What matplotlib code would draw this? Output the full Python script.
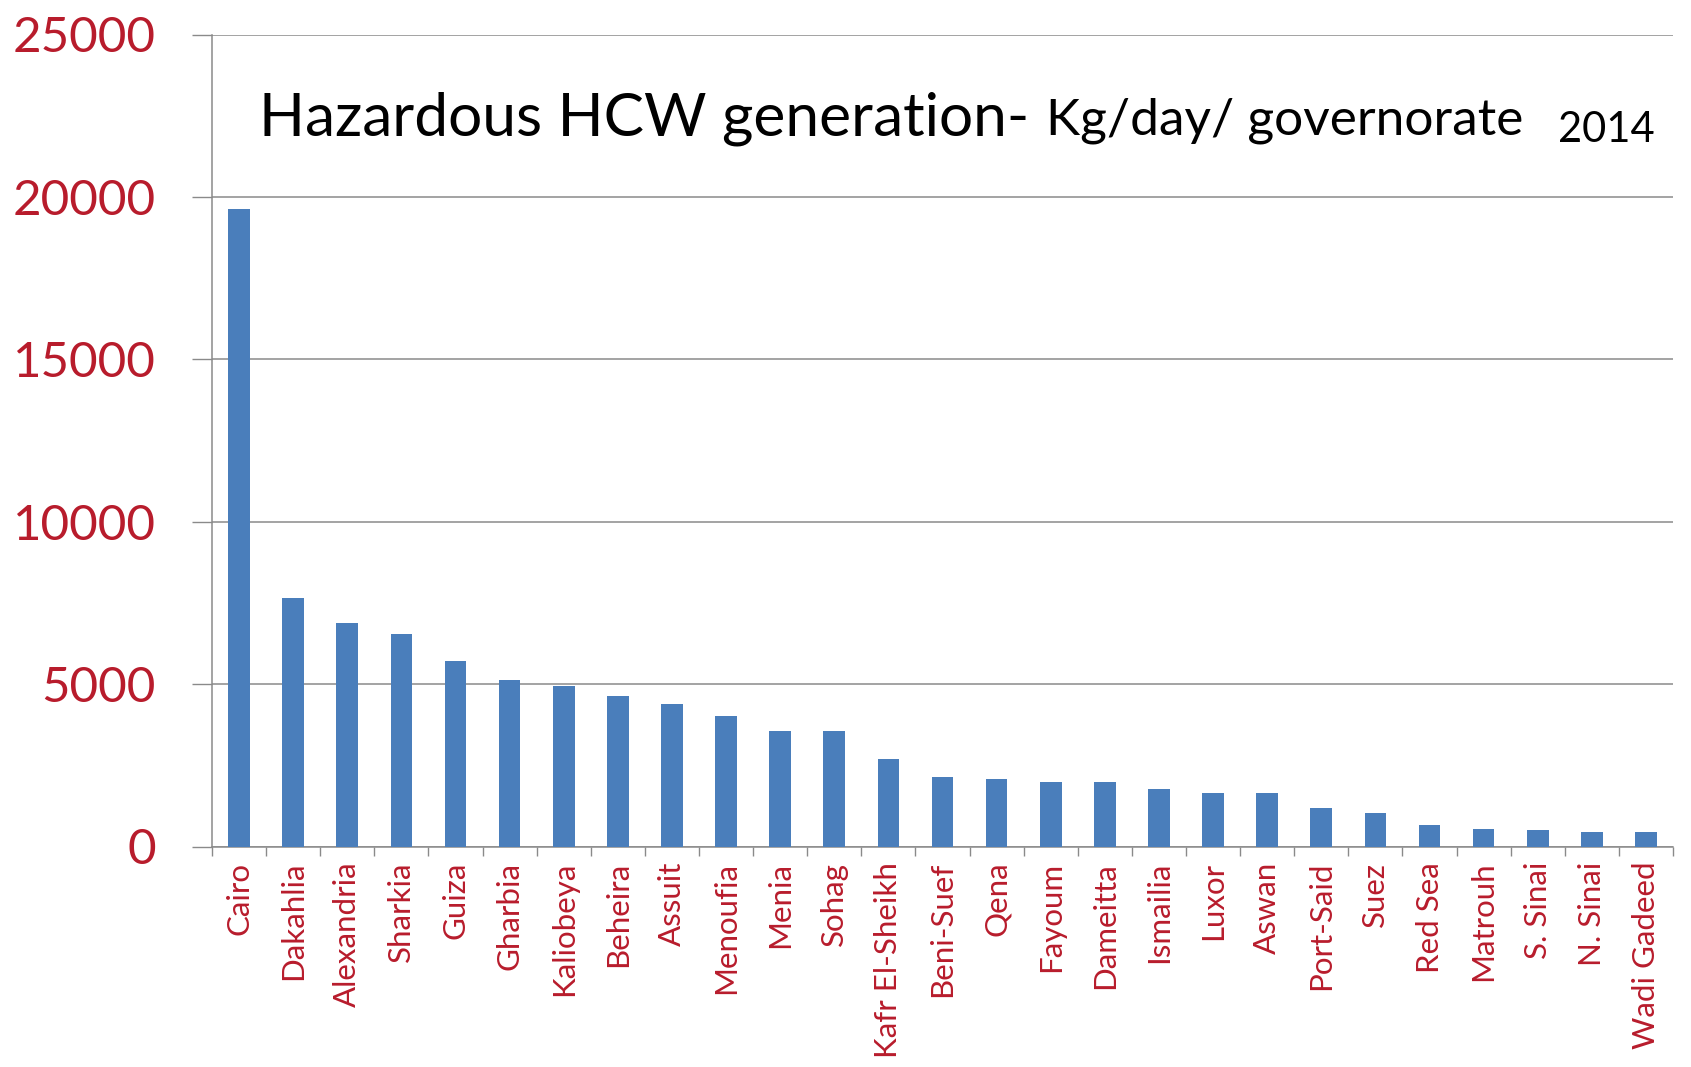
import numpy as np
import matplotlib
matplotlib.use("Agg")
import matplotlib.pyplot as plt

# ======================
# DATA
# ======================
governorates = [
    "Cairo", "Dakahlia", "Alexandria", "Sharkia", "Guiza", "Gharbia",
    "Kaliobeya", "Beheira", "Assuit", "Menoufia", "Menia", "Sohag",
    "Kafr El-Sheikh", "Beni-Suef", "Qena", "Fayoum", "Dameitta", "Ismailia",
    "Luxor", "Aswan", "Port-Said", "Suez", "Red Sea", "Matrouh", "S. Sinai",
    "N. Sinai", "Wadi Gadeed",
]
kg_per_day = [
    19630, 7645, 6870, 6545, 5715, 5140, 4930, 4640, 4390, 4020, 3570, 3560,
    2700, 2130, 2070, 2000, 1990, 1785, 1660, 1640, 1200, 1025, 656, 533,
    513, 460, 460,
]
y_ticks = [0, 5000, 10000, 15000, 20000, 25000]

# ======================
# STYLE
# ======================
W, H = 1691, 1067
BAR_COLOR = "#4a7ebb"
GRID_COLOR = "#8a8a8a"
RED = "#b81c2c"

plt.rcParams["font.family"] = ["Lato", "DejaVu Sans"]

fig = plt.figure(figsize=(W / 100, H / 100), dpi=100)
fig.patch.set_facecolor("white")

# axes box in pixel coords of reference
left, right, top, bottom = 212, 1673, 34.5, 846.5
ax = fig.add_axes([left / W, 1 - bottom / H, (right - left) / W, (bottom - top) / H])

x = np.arange(len(governorates))
ax.bar(x, kg_per_day, width=0.4, color=BAR_COLOR, zorder=3)

ax.set_xlim(-0.5, len(governorates) - 0.5)
ax.set_ylim(0, 25000)

# y axis
ax.set_yticks(y_ticks)
ax.set_yticklabels([str(v) for v in y_ticks], color=RED, fontsize=35.5)
ax.tick_params(axis="y", length=14.5, width=1.0, color=GRID_COLOR, pad=26)
ax.yaxis.grid(True, color=GRID_COLOR, linewidth=1.1, zorder=0)

# x axis: labels at centers, tick marks at boundaries
ax.set_xticks(x)
ax.set_xticklabels(governorates, rotation=90, color=RED, fontsize=22.5,
                   va="top", ha="center")
ax.tick_params(axis="x", which="major", length=0, pad=11)
ax.set_xticks(np.arange(len(governorates) + 1) - 0.5, minor=True)
ax.tick_params(axis="x", which="minor", length=6.5, width=1.0,
               color=GRID_COLOR, direction="out")

for side in ["top", "right"]:
    ax.spines[side].set_visible(False)
for side in ["left", "bottom"]:
    ax.spines[side].set_color(GRID_COLOR)
    ax.spines[side].set_linewidth(1.1)

# ======================
# TITLE (three pieces)
# ======================
fig.text(259 / W, 1 - 135 / H, "Hazardous HCW generation-", fontsize=43.5,
         color="black", ha="left", va="baseline")
fig.text(1046 / W, 1 - 135 / H, "Kg/day/ governorate", fontsize=37,
         color="black", ha="left", va="baseline")
fig.text(1558 / W, 1 - 142 / H, "2014", fontsize=30,
         color="black", ha="left", va="baseline")

fig.savefig("out.png", dpi=100, facecolor="white")
